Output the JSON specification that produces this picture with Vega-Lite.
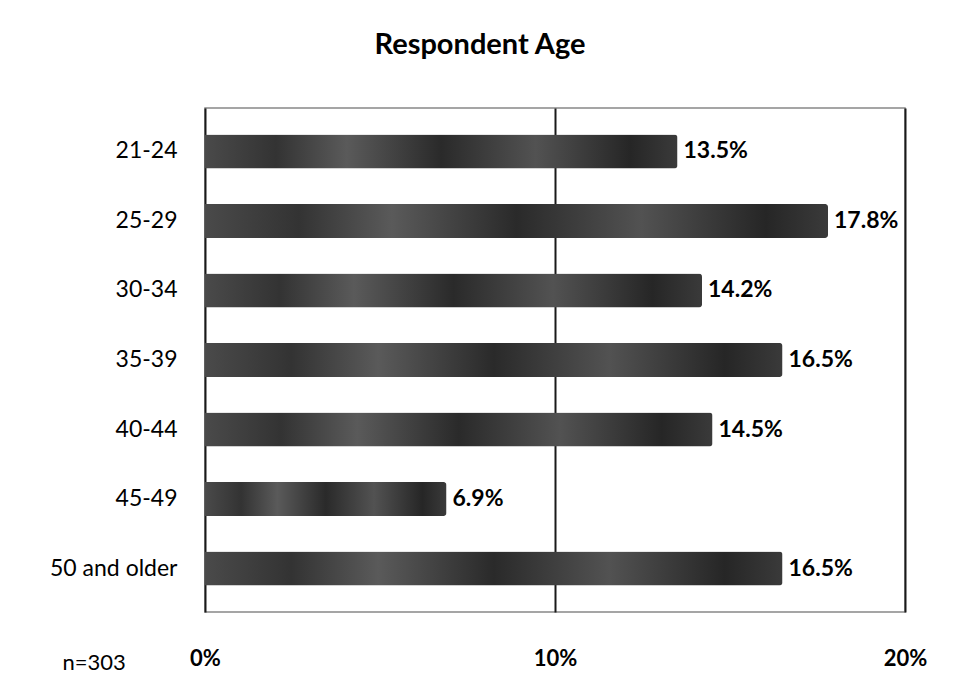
{
  "$schema": "https://vega.github.io/schema/vega-lite/v6.json",
  "width": 700,
  "height": 504,
  "autosize": {"type": "none"},
  "padding": {"left": 205, "top": 108, "right": 54, "bottom": 88},
  "background": "white",
  "title": {
    "text": "Respondent Age",
    "font": "Lato",
    "fontSize": 29,
    "fontWeight": "bold",
    "color": "#000",
    "anchor": "middle",
    "dx": -75,
    "offset": 48
  },
  "config": {
    "font": "Lato",
    "view": {"stroke": "#888", "strokeWidth": 1.5}
  },
  "data": {
    "values": [
      {"age": "21-24", "pct": 0.135, "label": "13.5%"},
      {"age": "25-29", "pct": 0.178, "label": "17.8%"},
      {"age": "30-34", "pct": 0.142, "label": "14.2%"},
      {"age": "35-39", "pct": 0.165, "label": "16.5%"},
      {"age": "40-44", "pct": 0.145, "label": "14.5%"},
      {"age": "45-49", "pct": 0.069, "label": "6.9%"},
      {"age": "50 and older", "pct": 0.165, "label": "16.5%"}
    ]
  },
  "encoding": {
    "y": {
      "field": "age",
      "type": "nominal",
      "sort": null,
      "scale": {"paddingInner": 0.51, "paddingOuter": 0.38},
      "axis": {
        "title": null,
        "domain": false,
        "ticks": false,
        "labelFontSize": 23,
        "labelColor": "#000",
        "labelPadding": 28
      }
    },
    "x": {
      "field": "pct",
      "type": "quantitative",
      "scale": {"domain": [0, 0.2], "nice": false},
      "axis": {
        "values": [0, 0.1, 0.2],
        "format": ".0%",
        "domain": false,
        "ticks": false,
        "grid": true,
        "gridColor": "#1a1a1a",
        "gridWidth": 2,
        "labelFontSize": 22,
        "labelFontWeight": "bold",
        "labelColor": "#000",
        "labelPadding": 36,
        "labelFlush": false,
        "title": "n=303",
        "titleFontSize": 22,
        "titleFontWeight": "normal",
        "titleColor": "#000",
        "titleAnchor": "start",
        "titleAlign": "left",
        "titleBaseline": "middle",
        "titleX": -143,
        "titleY": 50
      }
    }
  },
  "layer": [
    {
      "mark": {
        "type": "bar",
        "cornerRadiusEnd": 3,
        "color": {
          "gradient": "linear",
          "x1": 0, "x2": 1, "y1": 0, "y2": 0,
          "stops": [
            {"offset": 0, "color": "#4a4a4a"},
            {"offset": 0.15, "color": "#333333"},
            {"offset": 0.3, "color": "#5a5a5a"},
            {"offset": 0.5, "color": "#2a2a2a"},
            {"offset": 0.7, "color": "#525252"},
            {"offset": 0.9, "color": "#262626"},
            {"offset": 1, "color": "#3a3a3a"}
          ]
        }
      }
    },
    {
      "mark": {
        "type": "text",
        "align": "left",
        "baseline": "middle",
        "dx": 6,
        "font": "Lato",
        "fontSize": 23,
        "fontWeight": "bold",
        "color": "#000"
      },
      "encoding": {"text": {"field": "label"}}
    }
  ]
}
